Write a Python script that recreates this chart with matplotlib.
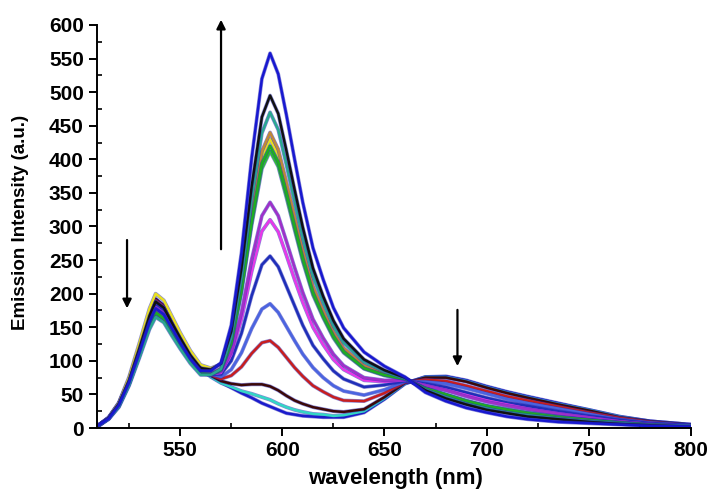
import matplotlib
matplotlib.use("Agg")
import matplotlib.pyplot as plt
import matplotlib.patheffects as pe
from matplotlib.ticker import MultipleLocator

plt.rcParams['font.family'] = ['Liberation Sans', 'DejaVu Sans']
plt.rcParams['font.weight'] = 'bold'

# wavelength grid (nm)
wavelength = [510, 515, 520, 525, 530, 535, 538, 542, 546, 550,
              555, 560, 565, 570, 575, 580, 585, 590, 594, 598,
              602, 606, 610, 615, 620, 625, 630, 640, 650, 660,
              670, 680, 690, 700, 710, 720, 735, 750, 765, 780, 800]

# emission spectra (a.u.)
s_blue_low = [4, 15, 37, 73, 121, 171, 192, 182, 159, 136, 110, 90, 77, 68, 60, 52, 45, 37, 32, 27,
              22, 20, 18, 17, 16, 16, 16, 23, 43, 66, 76, 77, 71, 62, 54, 47, 37, 27, 17, 10, 5]
s_cyan = [4, 15, 36, 71, 118, 167, 188, 179, 156, 134, 108, 88, 76, 67, 61, 55, 51, 46, 42, 36,
          31, 27, 24, 21, 20, 18, 19, 25, 44, 66, 76, 76, 70, 61, 53, 46, 36, 27, 17, 10, 5]
s_brown = [4, 15, 37, 73, 121, 171, 192, 182, 159, 137, 110, 90, 78, 70, 66, 64, 65, 65, 62, 56,
           48, 41, 36, 31, 28, 25, 24, 28, 46, 67, 75, 75, 69, 60, 52, 45, 35, 26, 16, 10, 5]
s_red = [4, 15, 36, 72, 120, 169, 190, 181, 158, 135, 109, 89, 79, 73, 78, 91, 111, 127, 130, 120,
         105, 90, 77, 63, 54, 46, 41, 40, 52, 68, 72, 70, 63, 55, 47, 41, 32, 23, 15, 9, 4]
s_blue_185 = [4, 15, 36, 71, 118, 167, 188, 179, 156, 134, 108, 88, 80, 76, 87, 112, 148, 177, 185, 172,
              151, 130, 110, 90, 75, 63, 55, 49, 57, 69, 69, 66, 59, 51, 43, 37, 29, 21, 13, 8, 4]
s_blue_255 = [4, 15, 35, 70, 117, 165, 185, 176, 154, 132, 106, 87, 80, 80, 100, 141, 197, 243, 256, 240,
              211, 182, 153, 123, 103, 85, 73, 61, 64, 70, 66, 61, 53, 45, 38, 33, 25, 18, 12, 7, 4]
s_magenta = [4, 14, 34, 68, 113, 160, 180, 171, 150, 128, 104, 85, 80, 82, 109, 162, 233, 293, 310, 292,
             257, 221, 187, 150, 124, 102, 87, 71, 69, 71, 64, 57, 49, 41, 35, 29, 22, 16, 10, 6, 3]
s_purple = [4, 14, 34, 68, 113, 160, 180, 171, 150, 128, 104, 85, 81, 84, 113, 172, 251, 316, 336, 316,
            278, 239, 202, 162, 134, 110, 93, 75, 71, 72, 63, 56, 47, 39, 33, 28, 21, 15, 10, 6, 3]
s_yellow = [4, 16, 38, 76, 126, 178, 200, 190, 166, 142, 115, 94, 89, 95, 135, 213, 317, 404, 430, 406,
            358, 307, 259, 207, 171, 139, 117, 91, 80, 74, 59, 49, 40, 32, 26, 22, 16, 12, 8, 5, 3]
s_green = [3, 14, 33, 65, 108, 153, 172, 163, 143, 123, 100, 82, 80, 87, 127, 205, 308, 394, 420, 396,
           350, 301, 253, 202, 167, 137, 114, 89, 79, 73, 59, 50, 40, 33, 27, 22, 16, 12, 8, 5, 3]
s_green2 = [3, 14, 32, 65, 107, 151, 170, 162, 141, 121, 99, 81, 79, 86, 125, 202, 302, 386, 412, 389,
            343, 295, 248, 198, 164, 134, 112, 88, 78, 73, 59, 50, 41, 33, 28, 23, 17, 12, 8, 5, 3]
s_orange = [4, 14, 33, 67, 110, 156, 175, 166, 146, 125, 101, 83, 81, 89, 131, 213, 321, 412, 440, 415,
            366, 315, 265, 211, 175, 143, 119, 93, 81, 74, 58, 48, 39, 31, 26, 21, 15, 11, 7, 5, 3]
s_teal = [3, 13, 31, 63, 104, 147, 165, 157, 137, 118, 96, 79, 79, 88, 135, 224, 341, 439, 470, 444,
          392, 337, 283, 226, 187, 152, 127, 98, 84, 74, 57, 46, 36, 29, 23, 19, 14, 10, 7, 4, 3]
s_black = [4, 15, 36, 71, 118, 167, 188, 179, 156, 134, 108, 89, 87, 96, 144, 238, 360, 463, 495, 468,
           413, 355, 299, 238, 196, 160, 133, 102, 86, 75, 56, 44, 35, 27, 22, 17, 13, 9, 6, 4, 2]
s_blue_top = [4, 14, 34, 68, 112, 158, 178, 169, 148, 127, 103, 85, 85, 97, 153, 261, 402, 520, 558, 527,
              466, 400, 336, 268, 221, 179, 149, 113, 92, 76, 53, 40, 30, 23, 17, 13, 9, 7, 5, 3, 2]

spectra = [s_blue_low, s_cyan, s_brown, s_red, s_blue_185, s_blue_255, s_magenta, s_purple,
           s_yellow, s_orange, s_green2, s_green, s_teal, s_black, s_blue_top]
colors = ['#1a1acc', '#33d6c4', '#3b0808', '#c81e1e', '#4a64e0', '#1f2fb8', '#e838e8', '#a030c8',
          '#e8e020', '#c08838', '#30c030', '#1fae1f', '#2aa890', '#111111', '#1818d0']

fig = plt.figure(figsize=(7.09, 4.91), dpi=100)
ax = fig.add_axes([97/709, 1-428/491, (691-97)/709, (428-25)/491])

outline = [pe.Stroke(linewidth=2.7, foreground='#2828b8', alpha=0.55), pe.Normal()]
for ys, c in zip(spectra, colors):
    ax.plot(wavelength, ys, color=c, lw=1.8, path_effects=outline, solid_joinstyle='round')

ax.set_xlim(509.3, 800)
ax.set_ylim(0, 600)
for side in ['top', 'right']:
    ax.spines[side].set_visible(False)
for side in ['left', 'bottom']:
    ax.spines[side].set_linewidth(1.4)

ax.xaxis.set_major_locator(MultipleLocator(50))
ax.xaxis.set_minor_locator(MultipleLocator(25))
ax.yaxis.set_major_locator(MultipleLocator(50))
ax.yaxis.set_minor_locator(MultipleLocator(25))
ax.tick_params(which='major', direction='out', length=6, width=1.4, labelsize=15, pad=3.5)
ax.tick_params(which='minor', direction='in', length=3.5, width=1.2)
for lab in ax.get_xticklabels() + ax.get_yticklabels():
    lab.set_fontweight('bold')

ax.set_ylabel('Emission Intensity (a.u.)', fontsize=13.5, fontweight='bold')
ax.yaxis.set_label_coords(-0.115, 0.51)
fig.text(395/709, 1-484/491, 'wavelength (nm)', ha='center', va='baseline',
         fontsize=16, fontweight='bold')

arrow = dict(arrowstyle='-|>', color='black', lw=1.6, mutation_scale=13)
ax.annotate('', xy=(570, 612), xytext=(570, 262), arrowprops=arrow, annotation_clip=False)
ax.annotate('', xy=(524, 174), xytext=(524, 284), arrowprops=arrow)
ax.annotate('', xy=(685.7, 88), xytext=(685.7, 180), arrowprops=arrow)

fig.savefig('out.png', dpi=100)
